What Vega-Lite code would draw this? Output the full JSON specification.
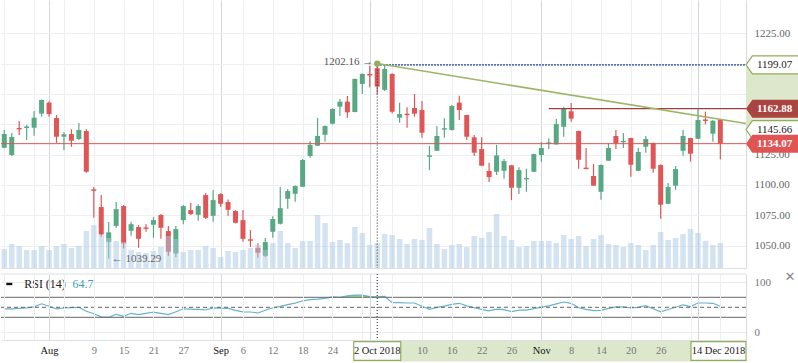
{
"$schema": "https://vega.github.io/schema/vega-lite/v6.json",
"padding": 0,
"background": "white",
"spacing": 1,
"config": {"font": "Liberation Serif", "view": {"stroke": null}, "axis": {"labelFont": "Liberation Serif", "labelFontSize": 11, "labelColor": "#666", "ticks": false, "domainColor": "#d9dcdf", "gridColor": "#eceef1", "labelPadding": 8, "title": null, "labelAngle": 0, "labelOverlap": false, "labelSeparation": 0}},
"resolve": {"scale": {"x": "independent", "y": "independent"}},
"datasets": {"ohlc": [
{"date":"2018-07-24","open":1130.7,"high":1145.3,"low":1130.2,"close":1142.0,"volume":190,"rsi":47},
{"date":"2018-07-25","open":1124.7,"high":1142.8,"low":1123.9,"close":1139.6,"volume":240,"rsi":47},
{"date":"2018-07-26","open":1147.0,"high":1152.8,"low":1141.2,"close":1145.8,"volume":220,"rsi":48},
{"date":"2018-07-27","open":1147.0,"high":1149.5,"low":1137.1,"close":1148.2,"volume":180,"rsi":49},
{"date":"2018-07-30","open":1147.2,"high":1161.0,"low":1140.6,"close":1155.5,"volume":180,"rsi":51},
{"date":"2018-07-31","open":1158.8,"high":1170.5,"low":1156.3,"close":1170.1,"volume":220,"rsi":57},
{"date":"2018-08-01","open":1167.9,"high":1169.0,"low":1156.3,"close":1158.5,"volume":180,"rsi":52},
{"date":"2018-08-02","open":1155.2,"high":1157.7,"low":1134.8,"close":1139.8,"volume":220,"rsi":47},
{"date":"2018-08-03","open":1139.8,"high":1143.7,"low":1128.8,"close":1141.8,"volume":240,"rsi":48.6},
{"date":"2018-08-06","open":1142.0,"high":1145.9,"low":1131.5,"close":1136.5,"volume":200,"rsi":49.5},
{"date":"2018-08-07","open":1137.9,"high":1151.1,"low":1137.1,"close":1145.3,"volume":220,"rsi":50},
{"date":"2018-08-08","open":1144.5,"high":1145.9,"low":1110.1,"close":1110.9,"volume":370,"rsi":42},
{"date":"2018-08-09","open":1096.4,"high":1098.3,"low":1072.9,"close":1095.2,"volume":430,"rsi":37},
{"date":"2018-08-10","open":1081.8,"high":1091.7,"low":1057.3,"close":1059.2,"volume":330,"rsi":31},
{"date":"2018-08-13","open":1053.1,"high":1069.4,"low":1039.29,"close":1060.9,"volume":300,"rsi":30},
{"date":"2018-08-14","open":1066.3,"high":1085.9,"low":1064.7,"close":1080.1,"volume":270,"rsi":36},
{"date":"2018-08-15","open":1082.6,"high":1083.4,"low":1047.7,"close":1051.8,"volume":260,"rsi":32},
{"date":"2018-08-16","open":1062.2,"high":1069.6,"low":1058.1,"close":1067.7,"volume":180,"rsi":38},
{"date":"2018-08-17","open":1065.3,"high":1066.9,"low":1048.2,"close":1055.6,"volume":160,"rsi":35.5},
{"date":"2018-08-20","open":1065.0,"high":1067.7,"low":1061.4,"close":1063.8,"volume":150,"rsi":38},
{"date":"2018-08-21","open":1067.2,"high":1073.5,"low":1056.4,"close":1071.0,"volume":170,"rsi":40.5},
{"date":"2018-08-22","open":1075.2,"high":1076.0,"low":1055.6,"close":1064.7,"volume":210,"rsi":38},
{"date":"2018-08-23","open":1062.0,"high":1066.1,"low":1041.6,"close":1044.9,"volume":320,"rsi":35.5},
{"date":"2018-08-24","open":1043.5,"high":1066.1,"low":1040.7,"close":1063.6,"volume":290,"rsi":41},
{"date":"2018-08-27","open":1071.0,"high":1083.4,"low":1067.7,"close":1082.6,"volume":160,"rsi":47},
{"date":"2018-08-28","open":1079.3,"high":1085.1,"low":1075.2,"close":1076.0,"volume":180,"rsi":46.5},
{"date":"2018-08-29","open":1075.4,"high":1084.2,"low":1070.5,"close":1082.6,"volume":180,"rsi":46},
{"date":"2018-08-30","open":1091.7,"high":1093.1,"low":1072.0,"close":1072.9,"volume":220,"rsi":44.6},
{"date":"2018-08-31","open":1074.6,"high":1095.8,"low":1069.6,"close":1087.5,"volume":200,"rsi":49},
{"date":"2018-09-03","open":1092.5,"high":1093.1,"low":1082.0,"close":1084.5,"volume":110,"rsi":48.5},
{"date":"2018-09-04","open":1085.9,"high":1088.1,"low":1074.6,"close":1079.5,"volume":170,"rsi":48},
{"date":"2018-09-05","open":1078.5,"high":1079.3,"low":1068.3,"close":1068.8,"volume":160,"rsi":44},
{"date":"2018-09-06","open":1071.0,"high":1079.3,"low":1053.1,"close":1055.6,"volume":180,"rsi":41},
{"date":"2018-09-07","open":1055.2,"high":1062.8,"low":1049.0,"close":1054.0,"volume":200,"rsi":40.6},
{"date":"2018-09-10","open":1048.2,"high":1052.0,"low":1039.9,"close":1044.1,"volume":230,"rsi":38.6},
{"date":"2018-09-11","open":1041.6,"high":1056.2,"low":1040.7,"close":1052.9,"volume":180,"rsi":44},
{"date":"2018-09-12","open":1061.4,"high":1074.3,"low":1056.4,"close":1071.9,"volume":250,"rsi":49},
{"date":"2018-09-13","open":1068.0,"high":1098.3,"low":1067.5,"close":1080.9,"volume":370,"rsi":52},
{"date":"2018-09-14","open":1088.6,"high":1096.6,"low":1080.4,"close":1095.0,"volume":250,"rsi":55.5},
{"date":"2018-09-17","open":1092.7,"high":1099.5,"low":1086.1,"close":1099.1,"volume":200,"rsi":58.5},
{"date":"2018-09-18","open":1098.5,"high":1121.4,"low":1098.3,"close":1120.6,"volume":270,"rsi":63},
{"date":"2018-09-19","open":1123.9,"high":1136.3,"low":1122.5,"close":1133.0,"volume":270,"rsi":65.5},
{"date":"2018-09-20","open":1132.4,"high":1155.2,"low":1132.1,"close":1140.4,"volume":530,"rsi":66.5},
{"date":"2018-09-21","open":1141.4,"high":1149.0,"low":1135.7,"close":1148.6,"volume":450,"rsi":68},
{"date":"2018-09-24","open":1150.5,"high":1163.3,"low":1150.0,"close":1162.7,"volume":260,"rsi":71},
{"date":"2018-09-25","open":1164.6,"high":1170.9,"low":1156.9,"close":1168.7,"volume":280,"rsi":70},
{"date":"2018-09-26","open":1168.7,"high":1173.4,"low":1155.5,"close":1159.9,"volume":250,"rsi":72.8},
{"date":"2018-09-27","open":1160.2,"high":1187.8,"low":1159.9,"close":1187.4,"volume":410,"rsi":74.5},
{"date":"2018-09-28","open":1183.3,"high":1192.0,"low":1175.0,"close":1191.6,"volume":350,"rsi":74.3},
{"date":"2018-10-01","open":1191.5,"high":1198.4,"low":1180.6,"close":1190.3,"volume":230,"rsi":71.5},
{"date":"2018-10-02","open":1196.3,"high":1202.16,"low":1174.8,"close":1181.1,"volume":250,"rsi":71},
{"date":"2018-10-03","open":1178.4,"high":1199.0,"low":1177.5,"close":1195.7,"volume":340,"rsi":72},
{"date":"2018-10-04","open":1191.6,"high":1192.2,"low":1159.1,"close":1160.4,"volume":330,"rsi":59.2},
{"date":"2018-10-05","open":1155.5,"high":1167.9,"low":1151.4,"close":1158.5,"volume":290,"rsi":59.2},
{"date":"2018-10-08","open":1158.8,"high":1164.1,"low":1147.2,"close":1157.6,"volume":240,"rsi":58.6},
{"date":"2018-10-09","open":1163.5,"high":1175.0,"low":1156.3,"close":1158.8,"volume":290,"rsi":58.6},
{"date":"2018-10-10","open":1161.8,"high":1169.3,"low":1139.0,"close":1143.1,"volume":280,"rsi":52},
{"date":"2018-10-11","open":1123.2,"high":1132.1,"low":1112.3,"close":1124.4,"volume":400,"rsi":46},
{"date":"2018-10-12","open":1128.2,"high":1148.6,"low":1128.0,"close":1140.4,"volume":240,"rsi":50},
{"date":"2018-10-15","open":1145.6,"high":1155.0,"low":1139.0,"close":1146.8,"volume":190,"rsi":52.5},
{"date":"2018-10-16","open":1145.3,"high":1166.0,"low":1145.0,"close":1165.1,"volume":230,"rsi":56},
{"date":"2018-10-17","open":1167.9,"high":1173.6,"low":1153.6,"close":1161.8,"volume":240,"rsi":58},
{"date":"2018-10-18","open":1157.7,"high":1158.0,"low":1137.1,"close":1139.8,"volume":210,"rsi":53},
{"date":"2018-10-19","open":1139.3,"high":1141.2,"low":1123.9,"close":1126.6,"volume":320,"rsi":49.5},
{"date":"2018-10-22","open":1129.6,"high":1139.3,"low":1115.5,"close":1115.9,"volume":300,"rsi":46},
{"date":"2018-10-23","open":1111.5,"high":1118.3,"low":1102.4,"close":1106.5,"volume":360,"rsi":43},
{"date":"2018-10-24","open":1110.9,"high":1133.0,"low":1108.2,"close":1124.4,"volume":540,"rsi":46.5},
{"date":"2018-10-25","open":1111.7,"high":1121.4,"low":1105.1,"close":1119.7,"volume":320,"rsi":45.5},
{"date":"2018-10-26","open":1116.2,"high":1116.5,"low":1087.5,"close":1097.7,"volume":280,"rsi":41.5},
{"date":"2018-10-29","open":1097.7,"high":1114.7,"low":1092.5,"close":1112.3,"volume":210,"rsi":44.5},
{"date":"2018-10-30","open":1104.6,"high":1113.4,"low":1094.4,"close":1105.8,"volume":220,"rsi":44.5},
{"date":"2018-10-31","open":1110.9,"high":1125.8,"low":1110.6,"close":1125.5,"volume":270,"rsi":47.5},
{"date":"2018-11-01","open":1124.7,"high":1135.4,"low":1119.2,"close":1130.5,"volume":270,"rsi":50.5},
{"date":"2018-11-02","open":1133.9,"high":1138.5,"low":1129.6,"close":1135.1,"volume":270,"rsi":53},
{"date":"2018-11-05","open":1133.5,"high":1154.4,"low":1133.2,"close":1150.2,"volume":250,"rsi":56.8},
{"date":"2018-11-07","open":1148.0,"high":1164.6,"low":1139.8,"close":1163.5,"volume":330,"rsi":60.6},
{"date":"2018-11-08","open":1160.8,"high":1167.6,"low":1152.2,"close":1154.7,"volume":290,"rsi":58},
{"date":"2018-11-09","open":1144.5,"high":1144.8,"low":1113.4,"close":1120.8,"volume":320,"rsi":49},
{"date":"2018-11-12","open":1114.3,"high":1130.5,"low":1113.0,"close":1113.1,"volume":220,"rsi":45.8},
{"date":"2018-11-13","open":1107.4,"high":1117.3,"low":1099.2,"close":1099.4,"volume":290,"rsi":43.5},
{"date":"2018-11-14","open":1094.4,"high":1116.8,"low":1087.8,"close":1116.5,"volume":330,"rsi":44},
{"date":"2018-11-15","open":1120.0,"high":1134.3,"low":1119.8,"close":1130.5,"volume":240,"rsi":48},
{"date":"2018-11-16","open":1140.4,"high":1145.3,"low":1129.6,"close":1134.6,"volume":230,"rsi":51},
{"date":"2018-11-19","open":1135.2,"high":1142.8,"low":1130.5,"close":1136.4,"volume":210,"rsi":51},
{"date":"2018-11-20","open":1138.7,"high":1139.0,"low":1106.8,"close":1116.7,"volume":250,"rsi":48.6},
{"date":"2018-11-21","open":1111.7,"high":1130.5,"low":1111.4,"close":1127.2,"volume":230,"rsi":50},
{"date":"2018-11-22","open":1131.5,"high":1140.4,"low":1126.6,"close":1137.9,"volume":180,"rsi":53.2},
{"date":"2018-11-23","open":1134.6,"high":1135.0,"low":1110.1,"close":1113.4,"volume":230,"rsi":47},
{"date":"2018-11-26","open":1116.5,"high":1116.8,"low":1072.1,"close":1083.7,"volume":360,"rsi":40.8},
{"date":"2018-11-27","open":1084.5,"high":1101.6,"low":1084.2,"close":1098.3,"volume":280,"rsi":45.5},
{"date":"2018-11-28","open":1099.4,"high":1115.6,"low":1096.0,"close":1113.1,"volume":300,"rsi":50},
{"date":"2018-11-29","open":1128.2,"high":1145.3,"low":1124.1,"close":1140.4,"volume":340,"rsi":55},
{"date":"2018-11-30","open":1138.7,"high":1139.0,"low":1119.2,"close":1125.8,"volume":390,"rsi":51.5},
{"date":"2018-12-03","open":1138.1,"high":1162.5,"low":1137.8,"close":1153.6,"volume":350,"rsi":58.6},
{"date":"2018-12-04","open":1154.0,"high":1160.5,"low":1150.0,"close":1152.8,"volume":270,"rsi":58.6},
{"date":"2018-12-05","open":1142.3,"high":1153.3,"low":1135.7,"close":1153.0,"volume":230,"rsi":58},
{"date":"2018-12-06","open":1153.6,"high":1153.9,"low":1121.2,"close":1134.07,"volume":250,"rsi":52}
]},
"vconcat": [
{
"width": 745, "height": 268,
"resolve": {"scale": {"y": "independent"}},
"layer": [
{
"data": {"name": "ohlc"},
"layer": [
{"mark": {"type": "rule", "strokeWidth": 1.2},
 "encoding": {
  "x": {"field": "date", "type": "ordinal",
   "scale": {"type": "point", "padding": 0.44, "domain": ["2018-07-24","2018-07-25","2018-07-26","2018-07-27","2018-07-30","2018-07-31","2018-08-01","2018-08-02","2018-08-03","2018-08-06","2018-08-07","2018-08-08","2018-08-09","2018-08-10","2018-08-13","2018-08-14","2018-08-15","2018-08-16","2018-08-17","2018-08-20","2018-08-21","2018-08-22","2018-08-23","2018-08-24","2018-08-27","2018-08-28","2018-08-29","2018-08-30","2018-08-31","2018-09-03","2018-09-04","2018-09-05","2018-09-06","2018-09-07","2018-09-10","2018-09-11","2018-09-12","2018-09-13","2018-09-14","2018-09-17","2018-09-18","2018-09-19","2018-09-20","2018-09-21","2018-09-24","2018-09-25","2018-09-26","2018-09-27","2018-09-28","2018-10-01","2018-10-02","2018-10-03","2018-10-04","2018-10-05","2018-10-08","2018-10-09","2018-10-10","2018-10-11","2018-10-12","2018-10-15","2018-10-16","2018-10-17","2018-10-18","2018-10-19","2018-10-22","2018-10-23","2018-10-24","2018-10-25","2018-10-26","2018-10-29","2018-10-30","2018-10-31","2018-11-01","2018-11-02","2018-11-05","2018-11-07","2018-11-08","2018-11-09","2018-11-12","2018-11-13","2018-11-14","2018-11-15","2018-11-16","2018-11-19","2018-11-20","2018-11-21","2018-11-22","2018-11-23","2018-11-26","2018-11-27","2018-11-28","2018-11-29","2018-11-30","2018-12-03","2018-12-04","2018-12-05","2018-12-06","2018-12-07","2018-12-10","2018-12-11"]},
   "axis": {"values": ["2018-07-24","2018-07-30","2018-08-01","2018-08-03","2018-08-09","2018-08-15","2018-08-21","2018-08-27","2018-08-31","2018-09-03","2018-09-06","2018-09-12","2018-09-18","2018-09-24","2018-09-28","2018-10-01","2018-10-04","2018-10-10","2018-10-16","2018-10-22","2018-10-26","2018-11-01","2018-11-08","2018-11-14","2018-11-20","2018-11-26","2018-11-30","2018-12-03","2018-12-06"],
    "labels": false, "ticks": false, "domain": true, "domainColor": "#dcdfe3", "grid": true, "title": null, "labelPadding": 0,
    "gridColor": {"condition": {"test": "indexof(['2018-08-01','2018-09-03','2018-10-01','2018-11-01','2018-12-03'], datum.value) >= 0", "value": "#d3d6da"}, "value": "#eceef1"}}},
  "y": {"field": "low", "type": "quantitative", "scale": {"domain": [1031.53, 1252.54], "nice": false, "zero": false},
   "axis": {"orient": "right", "values": [1050, 1075, 1100, 1125, 1150, 1175, 1200, 1225], "labelExpr": "(datum.value == 1200 || datum.value == 1150) ? '' : format(datum.value, '.2f')", "title": null, "grid": true, "domain": true, "domainColor": "#d9dcdf", "labelPadding": 8, "labelColor": "#666", "labelOverlap": false, "labelSeparation": 0, "labelBound": false, "labelFlush": false}},
  "y2": {"field": "high"},
  "color": {"condition": {"test": "datum.close >= datum.open", "value": "#59a884"}, "value": "#e05656"}
 }},
{"mark": {"type": "bar", "width": 5},
 "encoding": {
  "x": {"field": "date", "type": "ordinal"},
  "y": {"field": "open", "type": "quantitative",
   "axis": {"orient": "right", "values": [1050, 1075, 1100, 1125, 1150, 1175, 1200, 1225], "labelExpr": "(datum.value == 1200 || datum.value == 1150) ? '' : format(datum.value, '.2f')", "title": null, "grid": true, "domain": true, "domainColor": "#d9dcdf", "labelPadding": 8, "labelColor": "#666", "labelOverlap": false, "labelSeparation": 0, "labelBound": false, "labelFlush": false}},
  "y2": {"field": "close"},
  "color": {"condition": {"test": "datum.close >= datum.open", "value": "#59a884"}, "value": "#e05656"}
 }}
]
},
{
"data": {"name": "ohlc"},
"mark": {"type": "bar", "width": 5.5, "color": "#a9c7e4", "opacity": 0.5},
"encoding": {
 "x": {"field": "date", "type": "ordinal"},
 "y": {"field": "volume", "type": "quantitative", "scale": {"domain": [0, 2680], "nice": false}, "axis": null}
}
},
{
"layer": [
{"data": {"values": [{}]}, "mark": {"type": "rule", "color": "#e05252", "strokeWidth": 1},
 "encoding": {"y": {"datum": 1134.07, "type": "quantitative", "scale": {"domain": [1031.53, 1252.54], "nice": false, "zero": false}, "axis": null}}},
{"data": {"values": [{}]}, "mark": {"type": "rule", "color": "#a13d3d", "strokeWidth": 1.3},
 "encoding": {"x": {"datum": "2018-11-02", "type": "ordinal"}, "x2": {"value": "width"}, "y": {"datum": 1162.88, "type": "quantitative", "axis": null}}},
{"data": {"values": [{}]}, "mark": {"type": "rule", "color": "#2b4aa0", "strokeWidth": 1.6, "strokeDash": [1.5, 1.5]},
 "encoding": {"x": {"datum": "2018-10-02", "type": "ordinal"}, "x2": {"value": "width"}, "y": {"datum": 1199.07, "type": "quantitative", "axis": null}}},
{"data": {"values": [{}]}, "mark": {"type": "rule", "color": "#222222", "strokeWidth": 1, "strokeDash": [1, 2]},
 "encoding": {"x": {"datum": "2018-10-02", "type": "ordinal"}, "y": {"datum": 1200.1, "type": "quantitative", "axis": null}, "y2": {"datum": 1031.53}}},
{"data": {"values": [{}]}, "mark": {"type": "rule", "color": "#9db465", "strokeWidth": 1.5},
 "encoding": {"x": {"datum": "2018-10-02", "type": "ordinal"}, "x2": {"value": "width"}, "y": {"datum": 1200.1, "type": "quantitative", "axis": null}, "y2": {"datum": 1150.6}}},
{"data": {"values": [{}]}, "mark": {"type": "point", "filled": true, "color": "#93ad55", "opacity": 1, "size": 40},
 "encoding": {"x": {"datum": "2018-10-02", "type": "ordinal"}, "y": {"datum": 1200.1, "type": "quantitative", "axis": null}}},
{"data": {"values": [{"t": "1202.16 \u2192"}]}, "mark": {"type": "text", "align": "right", "baseline": "middle", "dx": -4, "fontSize": 11, "color": "#555"},
 "encoding": {"x": {"datum": "2018-10-02", "type": "ordinal"}, "y": {"datum": 1201.5, "type": "quantitative", "axis": null}, "text": {"field": "t"}}},
{"data": {"values": [{"t": "\u2190 1039.29"}]}, "mark": {"type": "text", "align": "left", "baseline": "middle", "dx": 3, "fontSize": 11, "color": "#666"},
 "encoding": {"x": {"datum": "2018-08-13", "type": "ordinal"}, "y": {"datum": 1039.29, "type": "quantitative", "axis": null}, "text": {"field": "t"}}},
{"data": {"values": [{}]}, "mark": {"type": "point", "filled": true, "opacity": 1, "fill": "#dde7cb", "strokeWidth": 0, "size": 11236, "shape": "M0,-0.6 L1,-0.6 L1,0.6 L0,0.6 Z"},
 "encoding": {"x": {"value": "width"}, "y": {"datum": 1172.36, "type": "quantitative", "axis": null}}},
{"data": {"values": [{"v": 1199.07}, {"v": 1145.66}]}, "mark": {"type": "point", "filled": true, "opacity": 1, "fill": "white", "stroke": "#8fae5b", "strokeWidth": 1.2, "size": 11236, "shape": "M0,0 L0.12,-0.17 L1,-0.17 L1,0.17 L0.12,0.17 Z"},
 "encoding": {"x": {"value": "width"}, "y": {"field": "v", "type": "quantitative", "axis": null}}},
{"data": {"values": [{"v": 1162.88}]}, "mark": {"type": "point", "filled": true, "opacity": 1, "fill": "#a94442", "strokeWidth": 0, "size": 11236, "shape": "M0,0 L0.12,-0.17 L1,-0.17 L1,0.17 L0.12,0.17 Z"},
 "encoding": {"x": {"value": "width"}, "y": {"field": "v", "type": "quantitative", "axis": null}}},
{"data": {"values": [{"v": 1134.07}]}, "mark": {"type": "point", "filled": true, "opacity": 1, "fill": "#e05454", "strokeWidth": 0, "size": 11236, "shape": "M0,0 L0.12,-0.17 L1,-0.17 L1,0.17 L0.12,0.17 Z"},
 "encoding": {"x": {"value": "width"}, "y": {"field": "v", "type": "quantitative", "axis": null}}},
{"data": {"values": [{"v": 1199.07, "t": "1199.07"}, {"v": 1145.66, "t": "1145.66"}]}, "mark": {"type": "text", "align": "left", "baseline": "middle", "dx": 11, "fontSize": 11, "color": "#222"},
 "encoding": {"x": {"value": "width"}, "y": {"field": "v", "type": "quantitative", "axis": null}, "text": {"field": "t"}}},
{"data": {"values": [{"v": 1162.88, "t": "1162.88"}, {"v": 1134.07, "t": "1134.07"}]}, "mark": {"type": "text", "align": "left", "baseline": "middle", "dx": 11, "fontSize": 11, "fontWeight": "bold", "color": "white"},
 "encoding": {"x": {"value": "width"}, "y": {"field": "v", "type": "quantitative", "axis": null}, "text": {"field": "t"}}}
]
}
]
},
{
"width": 745, "height": 66,
"layer": [
{"data": {"values": [{}]}, "mark": {"type": "rule", "color": "#dcdfe3", "strokeWidth": 1},
 "encoding": {"y": {"datum": 116.6, "type": "quantitative", "scale": {"domain": [-15.4, 116.6], "nice": false, "zero": false},
   "axis": {"orient": "right", "values": [0, 100], "title": null, "grid": true, "gridColor": "#e8eaed", "domain": true, "domainColor": "#d9dcdf", "labelPadding": 8, "labelColor": "#777", "labelOverlap": false, "labelSeparation": 0, "labelBound": false, "labelFlush": false}}}},
{"data": {"name": "ohlc"}, "transform": [{"filter": "datum.rsi >= 70"}], "mark": {"type": "area", "color": "#86d96a", "opacity": 0.9},
 "encoding": {"x": {"field": "date", "type": "ordinal"}, "y": {"field": "rsi", "type": "quantitative"}, "y2": {"datum": 70}}},
{"data": {"name": "ohlc"}, "mark": {"type": "line", "color": "#67b3cb", "strokeWidth": 1.2},
 "encoding": {
  "x": {"field": "date", "type": "ordinal",
   "scale": {"type": "point", "padding": 0.44, "domain": ["2018-07-24","2018-07-25","2018-07-26","2018-07-27","2018-07-30","2018-07-31","2018-08-01","2018-08-02","2018-08-03","2018-08-06","2018-08-07","2018-08-08","2018-08-09","2018-08-10","2018-08-13","2018-08-14","2018-08-15","2018-08-16","2018-08-17","2018-08-20","2018-08-21","2018-08-22","2018-08-23","2018-08-24","2018-08-27","2018-08-28","2018-08-29","2018-08-30","2018-08-31","2018-09-03","2018-09-04","2018-09-05","2018-09-06","2018-09-07","2018-09-10","2018-09-11","2018-09-12","2018-09-13","2018-09-14","2018-09-17","2018-09-18","2018-09-19","2018-09-20","2018-09-21","2018-09-24","2018-09-25","2018-09-26","2018-09-27","2018-09-28","2018-10-01","2018-10-02","2018-10-03","2018-10-04","2018-10-05","2018-10-08","2018-10-09","2018-10-10","2018-10-11","2018-10-12","2018-10-15","2018-10-16","2018-10-17","2018-10-18","2018-10-19","2018-10-22","2018-10-23","2018-10-24","2018-10-25","2018-10-26","2018-10-29","2018-10-30","2018-10-31","2018-11-01","2018-11-02","2018-11-05","2018-11-07","2018-11-08","2018-11-09","2018-11-12","2018-11-13","2018-11-14","2018-11-15","2018-11-16","2018-11-19","2018-11-20","2018-11-21","2018-11-22","2018-11-23","2018-11-26","2018-11-27","2018-11-28","2018-11-29","2018-11-30","2018-12-03","2018-12-04","2018-12-05","2018-12-06","2018-12-07","2018-12-10","2018-12-11"]},
   "axis": {"values": ["2018-07-24","2018-07-30","2018-08-01","2018-08-03","2018-08-09","2018-08-15","2018-08-21","2018-08-27","2018-08-31","2018-09-03","2018-09-06","2018-09-12","2018-09-18","2018-09-24","2018-09-28","2018-10-01","2018-10-04","2018-10-10","2018-10-16","2018-10-22","2018-10-26","2018-11-01","2018-11-08","2018-11-14","2018-11-20","2018-11-26","2018-11-30","2018-12-03","2018-12-06"],
    "labelExpr": "datum.value == '2018-08-01' ? 'Aug' : datum.value == '2018-09-03' ? 'Sep' : datum.value == '2018-11-01' ? 'Nov' : indexof(['2018-07-24','2018-07-30','2018-08-03','2018-08-31','2018-09-28','2018-10-01','2018-10-04','2018-11-30','2018-12-03','2018-12-06'], datum.value) >= 0 ? '' : '' + toNumber(slice(datum.value, 8))",
    "labelColor": {"condition": {"test": "indexof(['2018-08-01','2018-09-03','2018-11-01'], datum.value) >= 0", "value": "#111"}, "value": "#777"},
    "labelFontSize": 10.5, "labelPadding": 5, "labelAngle": 0, "labelOverlap": false, "labelBound": false, "zindex": 1,
    "ticks": false, "domain": true, "domainColor": "#dcdfe3", "grid": true, "title": null,
    "gridColor": {"condition": {"test": "indexof(['2018-08-01','2018-09-03','2018-10-01','2018-11-01','2018-12-03'], datum.value) >= 0", "value": "#d3d6da"}, "value": "#eceef1"}}},
  "y": {"field": "rsi", "type": "quantitative"}
 }},
{"data": {"values": [{"lvl": 70}, {"lvl": 30}]}, "mark": {"type": "rule", "color": "#666", "strokeWidth": 1},
 "encoding": {"y": {"field": "lvl", "type": "quantitative"}}},
{"data": {"values": [{}]}, "mark": {"type": "rule", "color": "#666", "strokeWidth": 1, "strokeDash": [4, 3]},
 "encoding": {"y": {"datum": 50, "type": "quantitative"}}},
{"data": {"values": [{}]}, "mark": {"type": "rule", "color": "#222222", "strokeWidth": 1, "strokeDash": [1, 2]},
 "encoding": {"x": {"datum": "2018-10-02", "type": "ordinal"}}},
{"data": {"values": [{}]}, "mark": {"type": "point", "filled": true, "opacity": 1, "fill": "#dde7cb", "strokeWidth": 0, "size": 544644, "yOffset": 11, "shape": "M-0.062,-0.0285 L1,-0.0285 L1,0.0285 L-0.062,0.0285 Z"},
 "encoding": {"x": {"datum": "2018-10-02", "type": "ordinal"}, "y": {"value": "height"}}},
{"data": {"values": [{}]}, "mark": {"type": "point", "filled": true, "opacity": 1, "fill": "white", "stroke": "#8fae5b", "strokeWidth": 1.2, "size": 2209, "yOffset": 11, "shape": "M-1,-0.4 L1,-0.4 L1,0.4 L-1,0.4 Z"},
 "encoding": {"x": {"datum": "2018-10-02", "type": "ordinal"}, "y": {"value": "height"}}},
{"data": {"values": [{}]}, "mark": {"type": "point", "filled": true, "opacity": 1, "fill": "white", "stroke": "#8fae5b", "strokeWidth": 1.2, "size": 12100, "yOffset": 11, "shape": "M-1,-0.17 L0,-0.17 L0,0.17 L-1,0.17 Z"},
 "encoding": {"x": {"value": "width"}, "y": {"value": "height"}}},
{"data": {"values": [{"t": "2 Oct 2018"}]}, "mark": {"type": "text", "align": "center", "baseline": "middle", "yOffset": 11, "fontSize": 10.5, "color": "#222"},
 "encoding": {"x": {"datum": "2018-10-02", "type": "ordinal"}, "y": {"value": "height"}, "text": {"field": "t"}}},
{"data": {"values": [{"t": "14 Dec 2018"}]}, "mark": {"type": "text", "align": "center", "baseline": "middle", "yOffset": 11, "dx": -27.5, "fontSize": 10.5, "color": "#222"},
 "encoding": {"x": {"value": "width"}, "y": {"value": "height"}, "text": {"field": "t"}}},
{"data": {"values": [{}]}, "mark": {"type": "point", "filled": true, "opacity": 1, "fill": "#111", "strokeWidth": 0, "size": 36, "xOffset": 5, "shape": "M-1,-0.4 L1,-0.4 L1,0.4 L-1,0.4 Z"},
 "encoding": {"x": {"datum": "2018-07-24", "type": "ordinal"}, "y": {"datum": 96.6, "type": "quantitative"}}},
{"data": {"values": [{"t": "RSI (14)"}]}, "mark": {"type": "text", "align": "left", "baseline": "middle", "dx": 5, "fontSize": 12, "color": "#222"},
 "encoding": {"x": {"datum": "2018-07-26", "type": "ordinal"}, "y": {"datum": 96.6, "type": "quantitative"}, "text": {"field": "t"}}},
{"data": {"values": [{"t": "64.7"}]}, "mark": {"type": "text", "align": "left", "baseline": "middle", "dx": 1, "fontSize": 12, "color": "#3f9fc0"},
 "encoding": {"x": {"datum": "2018-08-06", "type": "ordinal"}, "y": {"datum": 96.6, "type": "quantitative"}, "text": {"field": "t"}}},
{"data": {"values": [{"t": "\u2715"}]}, "mark": {"type": "text", "align": "center", "baseline": "middle", "dx": 44, "fontSize": 13, "color": "#888", "font": "DejaVu Sans"},
 "encoding": {"x": {"value": "width"}, "y": {"datum": 110.6, "type": "quantitative"}, "text": {"field": "t"}}}
]
}
]
}
